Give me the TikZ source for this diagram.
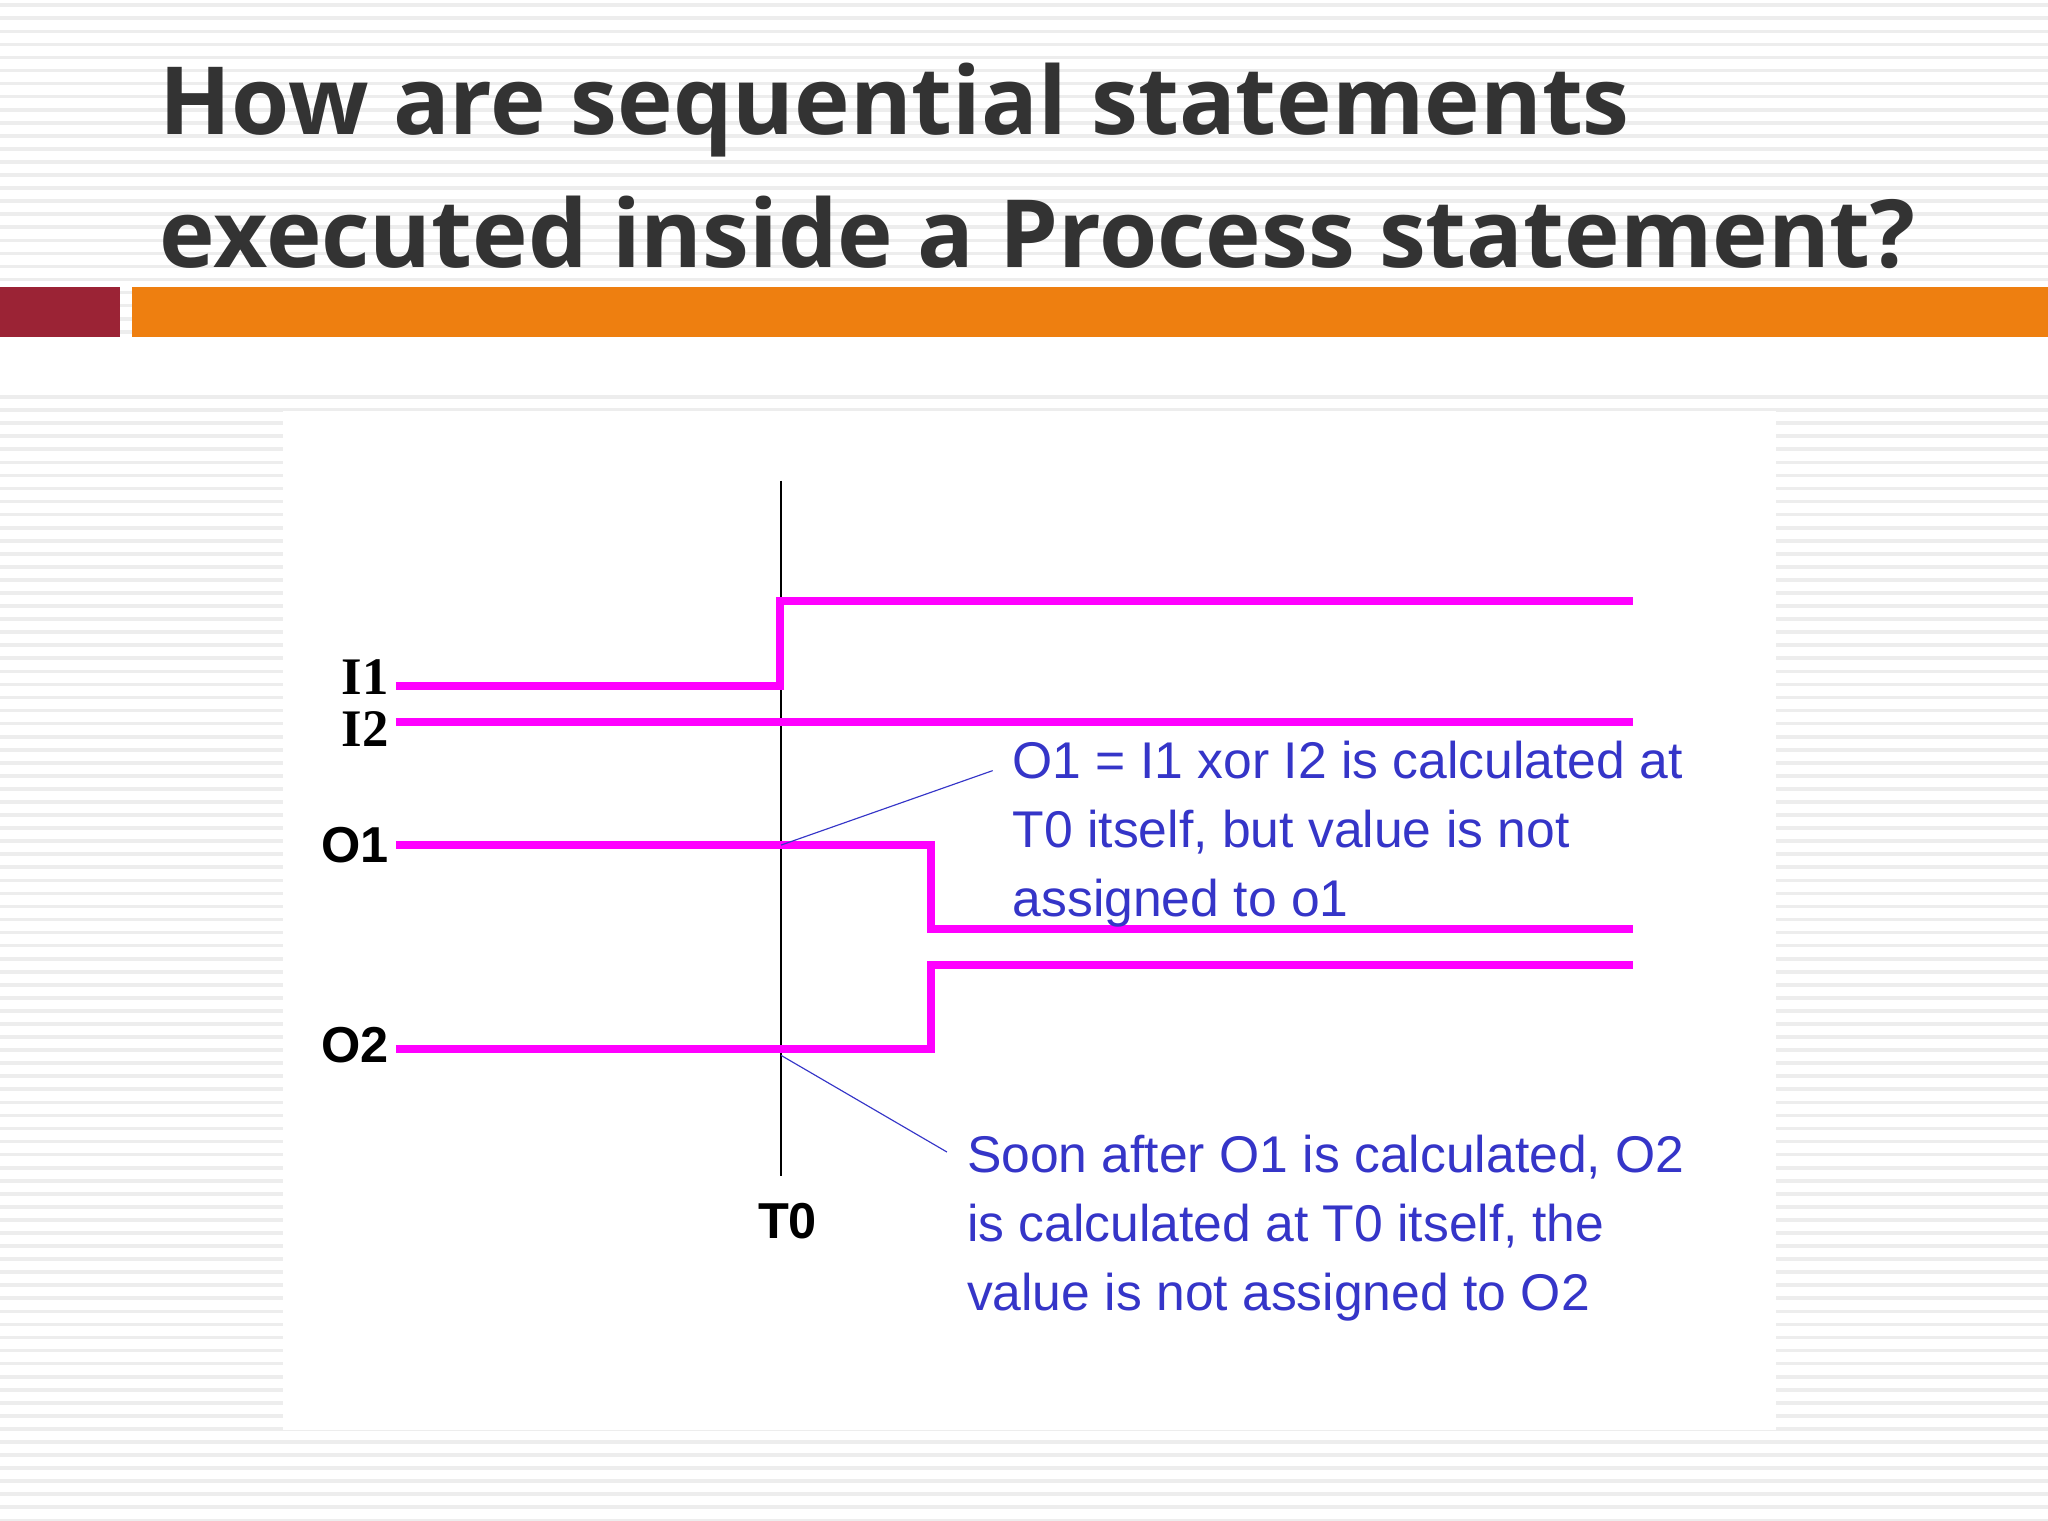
\documentclass[tikz,border=0pt]{standalone}
\usepackage{fontspec}
\setmainfont{Liberation Sans}
\newfontfamily\titlefont{Open Sans}
\newfontfamily\serifl{Liberation Serif}
\definecolor{sig}{HTML}{FF00FF}
\definecolor{ann}{HTML}{3535C8}
\definecolor{ttl}{HTML}{333333}
\definecolor{barred}{HTML}{9B2335}
\definecolor{barorange}{HTML}{EE7F10}
\begin{document}
\begin{tikzpicture}[x=0.02cm,y=-0.02cm,
  sigline/.style={sig,line width=3.4pt},
  lbl/.style={font=\fontsize{22}{24}\selectfont\bfseries,anchor=east,inner sep=0},
  anntext/.style={ann,font=\fontsize{22.5}{30}\selectfont,align=left,anchor=north west,inner sep=0},
  annline/.style={ann,line width=0.5pt},
  ttlstyle/.style={ttl,font=\titlefont\fontsize{41}{50}\selectfont\bfseries,anchor=base west,inner sep=0}]
\useasboundingbox (0,0) rectangle (1568,1164);
\fill[white] (0,0) rectangle (1568,1164);
\foreach \y in {4,14,...,1164} \draw[black!7,line width=1.6pt] (0,\y) -- (1568,\y);
\fill[white] (0,262) rectangle (1568,300);
\fill[white] (217,315) rectangle (1360,1095);
\node[ttlstyle] (t1) at (122,103) {How are sequential statements};
\node[ttlstyle] (t2) at (122,205) {executed inside a Process statement?};
\fill[barred] (0,220) rectangle (92,258);
\fill[barorange] (101,220) rectangle (1568,258);
\draw[black,line width=0.9pt] (598,368) -- (598,900);
\draw[sigline] (303,525) -- (597,525) -- (597,460) -- (1250,460);
\draw[sigline] (303,553) -- (1250,553);
\draw[sigline] (303,647) -- (713,647) -- (713,711) -- (1250,711);
\draw[sigline] (303,803) -- (713,803) -- (713,739) -- (1250,739);
\node[lbl,font=\serifl\fontsize{23}{25}\selectfont\bfseries] (li1) at (298,518) {I1};
\node[lbl,font=\serifl\fontsize{23}{25}\selectfont\bfseries] (li2) at (298,558) {I2};
\node[lbl] (lo1) at (298,647) {O1};
\node[lbl] (lo2) at (298,800) {O2};
\node[font=\fontsize{22}{24}\selectfont\bfseries,inner sep=0] (lt0) at (603,935) {T0};
\node[anntext] (a1) at (775,567) {O1 = I1 xor I2 is calculated at\\T0 itself, but value is not\\assigned to o1};
\node[anntext] (a2) at (740,869) {Soon after O1 is calculated, O2\\is calculated at T0 itself, the\\value is not assigned to O2};
\coordinate (p1) at (598,647);
\coordinate (p2) at (598,808);
\coordinate (e1) at (760,590);
\coordinate (e2) at (725,882);
\draw[annline] (p1) -- (e1);
\draw[annline] (p2) -- (e2);
\end{tikzpicture}
\end{document}
